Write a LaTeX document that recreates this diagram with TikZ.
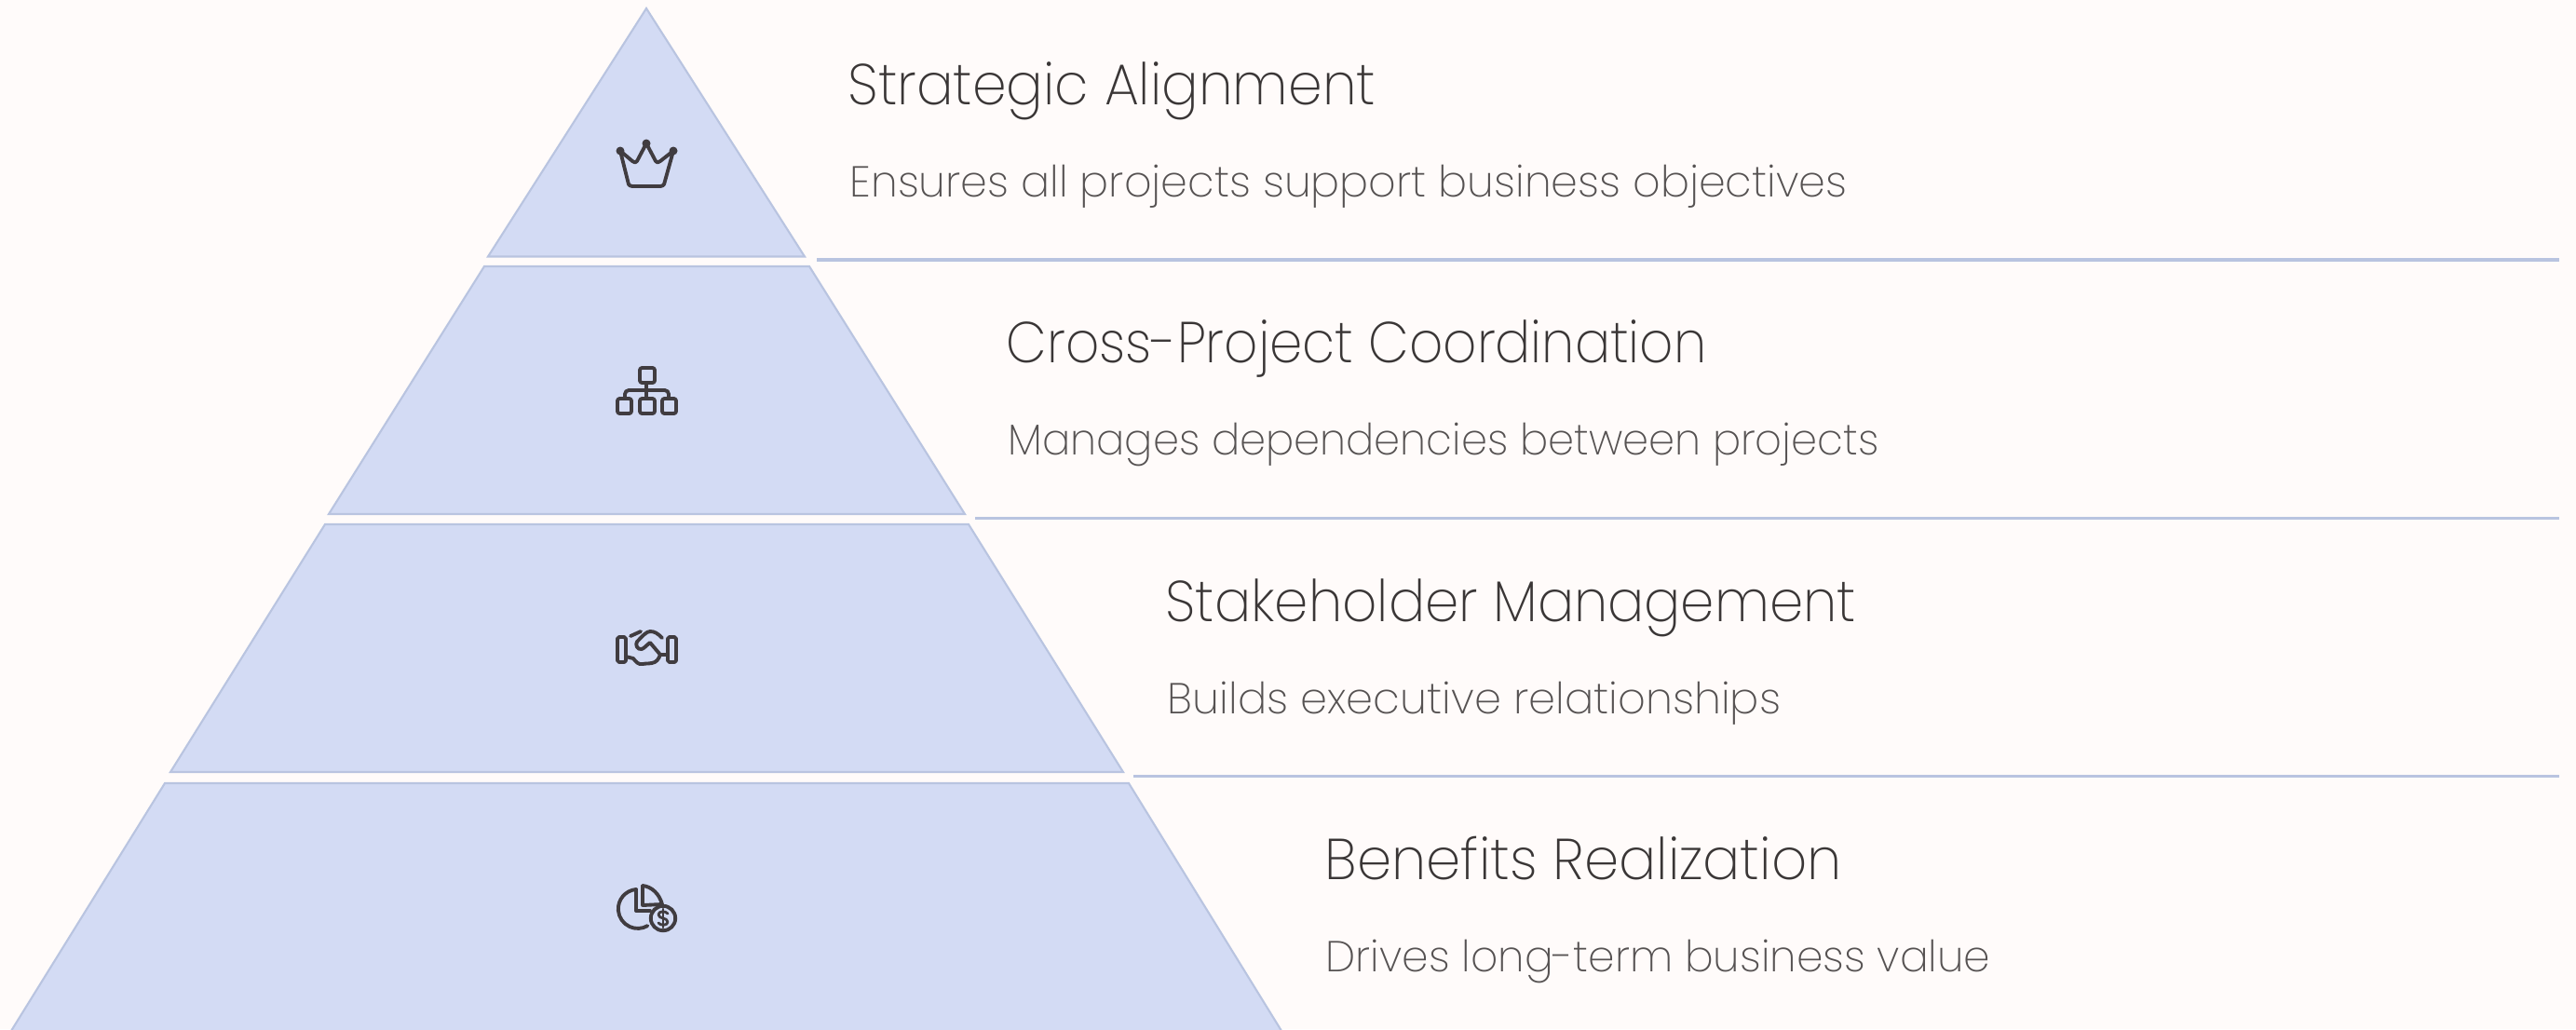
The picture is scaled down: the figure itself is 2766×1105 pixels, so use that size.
\documentclass[tikz,border=0pt]{standalone}
\usepackage{fontspec}
\usepackage{graphicx}
\setmainfont{Poppins}[UprightFont=* ExtraLight,BoldFont=* Light]
\definecolor{bgc}{HTML}{FFFBFA}
\definecolor{fillc}{HTML}{D3DBF4}
\definecolor{edgec}{HTML}{B9C4E0}
\definecolor{titlec}{HTML}{3A3636}
\definecolor{subc}{HTML}{565252}
\definecolor{iconc}{HTML}{403C40}
\tikzset{
  layer/.style={fill=fillc,draw=edgec,line width=0.6pt,line join=miter},
  rulerline/.style={draw=edgec,line width=0.95pt},
  titletext/.style={anchor=base west,inner sep=0pt,text=titlec,font=\fontsize{17.6}{20}\selectfont},
  subtext/.style={anchor=base west,inner sep=0pt,text=subc,font=\fontsize{13.2}{16}\selectfont},
  icon/.style={draw=iconc,line width=1.1pt,line cap=round,line join=round,fill=none},
}
\begin{document}
\begin{tikzpicture}[x=0.01cm,y=-0.01cm]
\useasboundingbox[fill=bgc] (0,0) rectangle (2766,1105);
% pyramid
\begin{scope}
\clip (0,0) rectangle (2766,1105);
\draw[layer] (694,9) -- (864,275.5) -- (524,275.5) -- cycle;
\draw[layer] (869,286) -- (1036,552) -- (353,552) -- (520,286) -- cycle;
\draw[layer] (1040,563) -- (1206,829) -- (183,829) -- (349,563) -- cycle;
\draw[layer] (1212,841) -- (1381,1115) -- (7,1115) -- (177,841) -- cycle;
\end{scope}
% rules
\coordinate (r1a) at (877,279); \coordinate (r1b) at (2748,279);
\coordinate (r2a) at (1047,556.6); \coordinate (r2b) at (2748,556.6);
\coordinate (r3a) at (1217,833.7); \coordinate (r3b) at (2748,833.7);
\draw[rulerline] (r1a) -- (r1b);
\draw[rulerline] (r2a) -- (r2b);
\draw[rulerline] (r3a) -- (r3b);
% texts
\node[titletext] (t1) at (910,112) {\scalebox{.95}[1]{Strategic Alignment}};
\node[subtext] (s1) at (912,211) {\scalebox{.993}[1]{Ensures all projects support business objectives}};
\node[titletext] (t2) at (1080,389.5) {\scalebox{.914}[1]{Cross-Project Coordination}};
\node[subtext] (s2) at (1082,488.5) {\scalebox{.967}[1]{Manages dependencies between projects}};
\node[titletext] (t3) at (1251,667) {\scalebox{.94}[1]{Stakeholder Management}};
\node[subtext] (s3) at (1253,766) {Builds executive relationships};
\node[titletext] (t4) at (1422,944.5) {\scalebox{.963}[1]{Benefits Realization}};
\node[subtext] (s4) at (1423,1043.5) {\scalebox{.983}[1]{Drives long-term business value}};
% crown
\draw[icon] (666,162) -- (675,198) .. controls (676,199) and (677,200) .. (679,200) -- (709,200) .. controls (711,200) and (712,199) .. (713,198) -- (723,162)
  -- (709,173) .. controls (707,175) and (705,175) .. (704,173) -- (694,154) -- (684,173) .. controls (683,175) and (681,175) .. (679,173) -- cycle;
\fill[iconc] (666,162) circle (4.5) (694,154) circle (4.5) (723,162) circle (4.5);
% org chart
\draw[icon,rounded corners=0.7pt] (687,395) rectangle (703,411);
\draw[icon,rounded corners=0.7pt] (663,428) rectangle (678,444);
\draw[icon,rounded corners=0.7pt] (687,428) rectangle (703,444);
\draw[icon,rounded corners=0.7pt] (711,428) rectangle (726,444);
\draw[icon] (694,411) -- (694,428);
\draw[icon,rounded corners=1.2pt] (671,428) -- (671,419) -- (718,419) -- (718,428);
% handshake
\draw[icon,rounded corners=0.5pt] (663,684) rectangle (672,711);
\draw[icon,rounded corners=0.5pt] (717,684) rectangle (726,711);
\draw[icon] (672,705) -- (680,707) .. controls (683,711) and (686,714) .. (690,713) .. controls (695,712) and (697,713) .. (700,712) .. controls (705,711) and (707,708) .. (709,703) -- (717,703);
\draw[icon] (677,683) -- (688,678);
\draw[icon] (711,685) .. controls (706,680) and (703,678) .. (698,678) .. controls (694,678) and (690,683) .. (684,689) .. controls (682,692) and (684,698) .. (689,697) .. controls (692,696) and (695,692) .. (698,690) -- (709,703);
% pie with coin
\draw[icon] (683,955) arc[start angle=-95,delta angle=-205,radius=21];
\draw[icon] (683,955) -- (683,978) -- (698,978);
\draw[icon] (690,951) -- (690,972) -- (711,971);
\draw[icon] (690,951) .. controls (700,952) and (708,960) .. (711,971);
\draw[icon] (712,986) circle (13.2);
\draw[icon,line width=0.8pt] (717,981) .. controls (715,978) and (707,978) .. (707,982) .. controls (707,987) and (717,985) .. (717,990) .. controls (717,994) and (709,994) .. (707,991);
\draw[icon,line width=0.8pt] (712,976) -- (712,996);
\end{tikzpicture}
\end{document}
